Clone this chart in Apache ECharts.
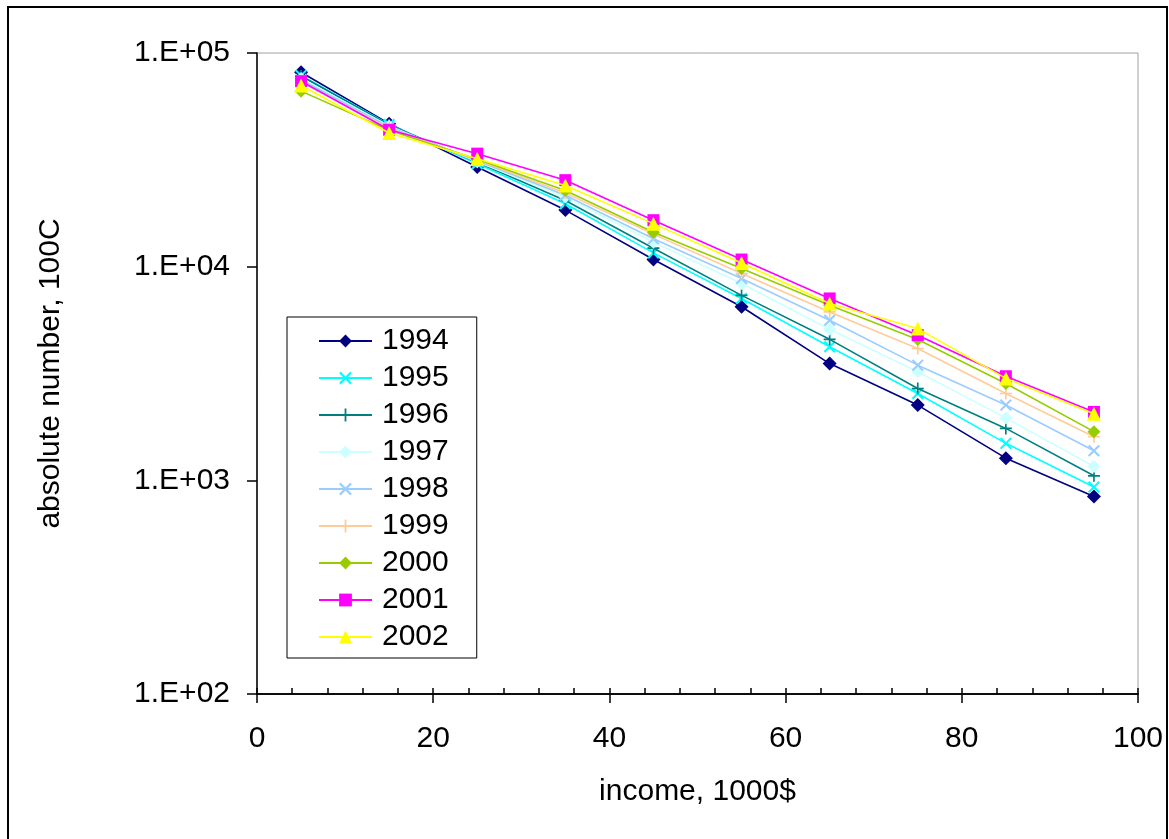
<!DOCTYPE html>
<html>
<head>
<meta charset="utf-8">
<script src="https://cdn.jsdelivr.net/npm/echarts@6/dist/echarts.min.js"></script>
<style>
html,body{margin:0;padding:0;background:#fff;}
#chart{width:1169px;height:839px;}
</style>
</head>
<body>
<div id="chart"></div>
<script>
// income bracket midpoints (1000$)
const incomes = [5, 15, 25, 35, 45, 55, 65, 75, 85, 95];
const years = ['1994','1995','1996','1997','1998','1999','2000','2001','2002'];
const y1994 = [81300, 46700, 29300, 18400, 10800, 6490, 3520, 2250, 1270, 840];
const y1995 = [78500, 46300, 30300, 19700, 11600, 7100, 4220, 2550, 1490, 930];
const y1996 = [78000, 46000, 30800, 20400, 12200, 7340, 4570, 2690, 1750, 1050];
const y1997 = [76000, 45500, 31000, 21200, 13000, 8340, 5090, 3220, 1960, 1160];
const y1998 = [75000, 45000, 31300, 21600, 13500, 8800, 5610, 3460, 2250, 1375];
const y1999 = [73000, 44500, 31600, 22100, 14200, 9280, 6140, 4140, 2550, 1600];
const y2000 = [66300, 43500, 31800, 22700, 14500, 9800, 6600, 4560, 2840, 1690];
const y2001 = [73800, 43700, 33800, 25400, 16500, 10800, 7100, 4780, 3070, 2090];
const y2002 = [70500, 42200, 32000, 24000, 15900, 10400, 6720, 5130, 3000, 2050];
const yTickLabels = ['1.E+02', '1.E+03', '1.E+04', '1.E+05'];
const xTickLabels = ['0', '20', '40', '60', '80', '100'];

const seriesValues = [y1994, y1995, y1996, y1997, y1998, y1999, y2000, y2001, y2002];
const colors = ['#000080', '#00ffff', '#008080', '#ccffff', '#99ccff', '#ffcc99', '#99cc00', '#ff00ff', '#ffff00'];
const X_SYM = 'path://M0,1.2 L1.2,0 L5,3.8 L8.8,0 L10,1.2 L6.2,5 L10,8.8 L8.8,10 L5,6.2 L1.2,10 L0,8.8 L3.8,5 Z';
const PLUS_SYM = 'path://M4.3,0 H5.7 V4.3 H10 V5.7 H5.7 V10 H4.3 V5.7 H0 V4.3 H4.3 Z';
const symbols = ['diamond', X_SYM, PLUS_SYM, 'diamond', X_SYM, PLUS_SYM, 'diamond', 'rect', 'triangle'];
const sizes = [14, 12, 12, 13, 12, 12, 13, 12, 14];

const FONT = 'Liberation Sans, Arial, sans-serif';
const chart = echarts.init(document.getElementById('chart'), null, {renderer: 'canvas'});

const series = years.map((y, i) => ({
  name: y,
  type: 'line',
  xAxisIndex: 0,
  data: incomes.map((x, j) => [x, seriesValues[i][j]]),
  symbol: symbols[i],
  symbolSize: sizes[i],
  showAllSymbol: true,
  lineStyle: {color: colors[i], width: 1.6},
  itemStyle: {color: colors[i], borderWidth: 0},
  emphasis: {disabled: true},
  z: 2 + i
}));

chart.setOption({
  animation: false,
  backgroundColor: '#fff',
  textStyle: {fontFamily: FONT},
  graphic: [{
    type: 'rect',
    shape: {x: 8, y: 7, width: 1159, height: 900},
    style: {fill: 'none', stroke: '#000', lineWidth: 2},
    silent: true
  }],
  grid: {
    left: 257, top: 53, width: 881, height: 641,
    show: true, borderColor: '#a0a0a0', borderWidth: 1, backgroundColor: 'transparent'
  },
  legend: {
    orient: 'vertical',
    left: 287, top: 317,
    padding: [9, 28, 6, 31],
    itemWidth: 53, itemHeight: 16, itemGap: 7,
    borderColor: '#000', borderWidth: 1,
    backgroundColor: '#fff',
    textStyle: {fontSize: 30, color: '#000', fontFamily: FONT, lineHeight: 30, padding: [0, 0, 0, 5]},
    data: years
  },
  xAxis: [{
    type: 'value', min: 0, max: 100, interval: 20,
    position: 'bottom',
    name: 'income, 1000$', nameLocation: 'middle', nameGap: 83,
    nameTextStyle: {fontSize: 30, color: '#000', fontFamily: FONT},
    axisLine: {show: true, onZero: false, lineStyle: {color: '#000', width: 1.5}},
    axisTick: {show: true, inside: false, length: 9, lineStyle: {color: '#000', width: 1.5}},
    axisLabel: {fontSize: 30, color: '#000', margin: 30, fontFamily: FONT,
      formatter: v => xTickLabels[Math.round(v / 20)]},
    splitLine: {show: false}
  }, {
    type: 'value', min: 0, max: 100, interval: 20,
    position: 'bottom',
    axisLine: {show: true, onZero: false, lineStyle: {color: '#000', width: 1.5}},
    axisTick: {show: true, inside: true, length: 6, lineStyle: {color: '#000', width: 1.5}},
    minorTick: {show: true, splitNumber: 5, length: 6, lineStyle: {color: '#000', width: 1.5}},
    axisLabel: {show: false},
    splitLine: {show: false}
  }],
  yAxis: {
    type: 'log', logBase: 10, min: 100, max: 100000,
    name: 'absolute number, 100C', nameLocation: 'middle', nameGap: 191, nameRotate: 90,
    nameTextStyle: {fontSize: 30, color: '#000', fontFamily: FONT},
    axisLine: {show: true, lineStyle: {color: '#000', width: 1.5}},
    axisTick: {show: true, inside: false, length: 10, lineStyle: {color: '#000', width: 1.5}},
    axisLabel: {fontSize: 30, color: '#000', margin: 27, fontFamily: FONT,
      formatter: v => yTickLabels[Math.round(Math.log10(v)) - 2]},
    splitLine: {show: false},
    minorTick: {show: false}
  },
  series: series
});
</script>
</body>
</html>
